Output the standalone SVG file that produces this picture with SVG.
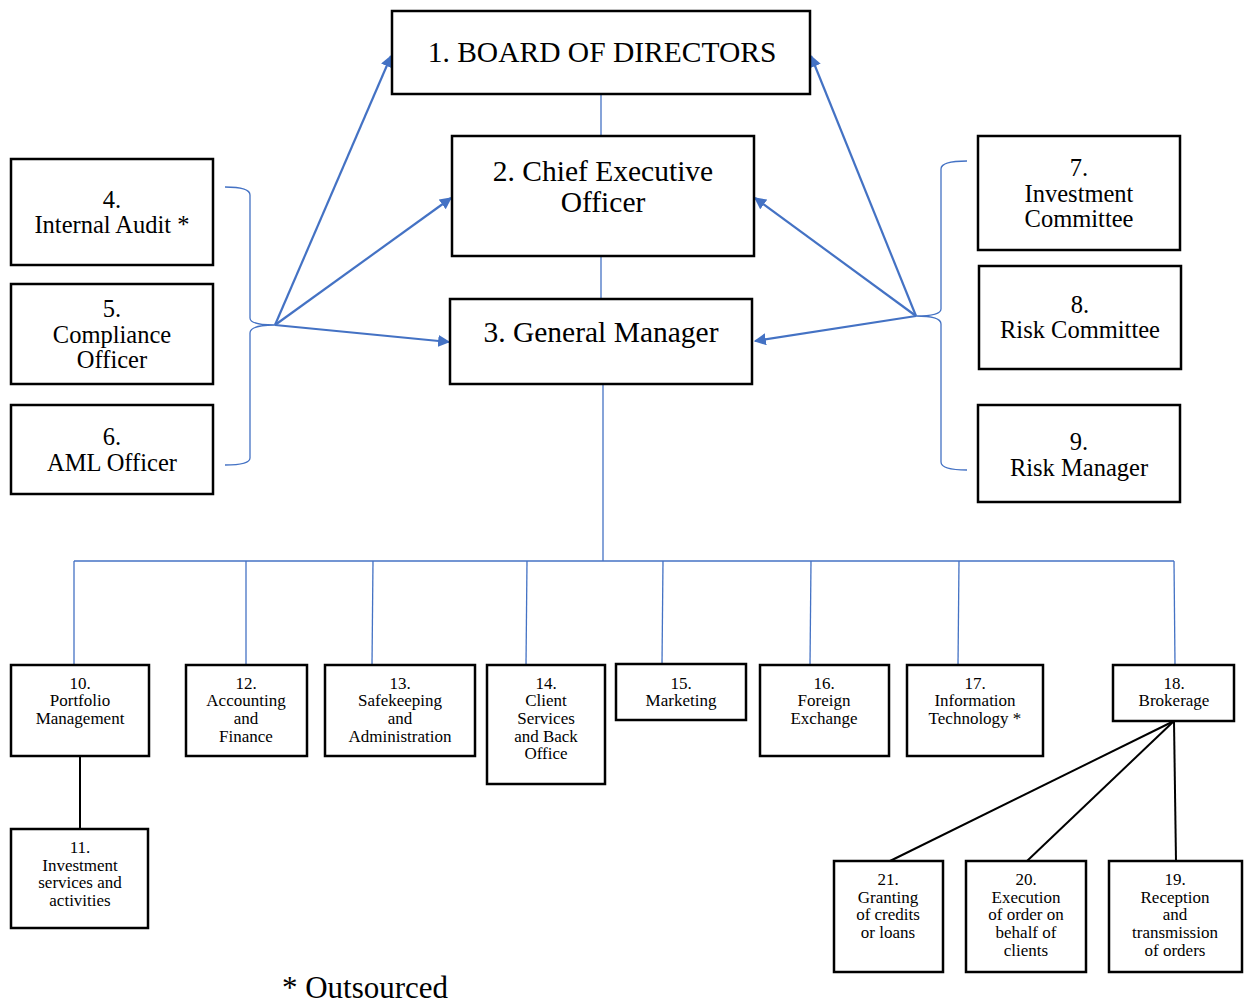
<svg xmlns="http://www.w3.org/2000/svg" width="1244" height="1005" viewBox="0 0 1244 1005" font-family="Liberation Serif, Times New Roman, serif">
<style>
.box{fill:#fff;stroke:#000;stroke-width:2.5}
text{fill:#000;text-anchor:middle}
.big{font-size:29.5px}
.mid{font-size:24.5px}
.sm{font-size:17px}
.blue{stroke:#4472C4;fill:none;stroke-width:1.3}
.arr{stroke:#4472C4;fill:none;stroke-width:2.2;marker-end:url(#ah)}
.blk{stroke:#000;fill:none;stroke-width:2}
</style>
<defs>
<marker id="ah" viewBox="0 0 10 10" refX="9" refY="5" markerWidth="5.5" markerHeight="5.5" orient="auto" markerUnits="strokeWidth">
<path d="M0,0 L10,5 L0,10 z" fill="#4472C4"/>
</marker>
</defs>
<g id="connectors">
<line class="blue" x1="601" y1="94" x2="601" y2="136"/>
<line class="blue" x1="601" y1="256" x2="601" y2="299"/>
<line class="blue" x1="603" y1="384" x2="603" y2="561"/>
<line class="blue" x1="74" y1="561" x2="1174" y2="561"/>
<line class="blue" x1="74" y1="561" x2="74" y2="665"/>
<line class="blue" x1="246" y1="561" x2="246" y2="665"/>
<line class="blue" x1="373" y1="561" x2="372" y2="665"/>
<line class="blue" x1="527" y1="561" x2="526" y2="665"/>
<line class="blue" x1="663" y1="561" x2="662" y2="664"/>
<line class="blue" x1="811" y1="561" x2="810" y2="665"/>
<line class="blue" x1="959" y1="561" x2="958" y2="665"/>
<line class="blue" x1="1174" y1="561" x2="1175" y2="665"/>
<path class="blue" d="M225,187 Q250,187 250,195 L250,318 Q250,325 275,325 Q250,325 250,333 L250,458 Q250,465 225,465"/>
<path class="blue" d="M967,161 Q941,161 941,169 L941,309 Q941,316 916,316 Q941,316 941,324 L941,462 Q941,470 967,470"/>
<line class="arr" x1="275" y1="325" x2="391" y2="56"/>
<line class="arr" x1="275" y1="325" x2="451" y2="198"/>
<line class="arr" x1="275" y1="325" x2="449" y2="342"/>
<line class="arr" x1="916" y1="316" x2="811" y2="56"/>
<line class="arr" x1="916" y1="316" x2="755" y2="198"/>
<line class="arr" x1="916" y1="316" x2="755" y2="341"/>
<line class="blk" x1="80" y1="756" x2="80" y2="829"/>
<line class="blk" x1="1174" y1="721" x2="890" y2="861"/>
<line class="blk" x1="1174" y1="721" x2="1027" y2="861"/>
<line class="blk" x1="1174" y1="721" x2="1176" y2="861"/>
</g>
<g id="n1"><rect class="box" x="392" y="11" width="418" height="83"/><text class="big" x="602" y="62">1. BOARD OF DIRECTORS</text></g>
<g id="n2"><rect class="box" x="452" y="136" width="302" height="120"/><text class="big" x="603" y="181">2. Chief Executive</text><text class="big" x="603" y="212">Officer</text></g>
<g id="n3"><rect class="box" x="450" y="299" width="302" height="85"/><text class="big" x="601" y="342">3. General Manager</text></g>
<g id="n4"><rect class="box" x="11" y="159" width="202" height="106"/><text class="mid" x="112" y="208">4.</text><text class="mid" x="112" y="233">Internal Audit *</text></g>
<g id="n5"><rect class="box" x="11" y="284" width="202" height="100"/><text class="mid" x="112" y="317">5.</text><text class="mid" x="112" y="343">Compliance</text><text class="mid" x="112" y="368">Officer</text></g>
<g id="n6"><rect class="box" x="11" y="405" width="202" height="89"/><text class="mid" x="112" y="445">6.</text><text class="mid" x="112" y="471">AML Officer</text></g>
<g id="n7"><rect class="box" x="978" y="136" width="202" height="114"/><text class="mid" x="1079" y="176">7.</text><text class="mid" x="1079" y="202">Investment</text><text class="mid" x="1079" y="227">Committee</text></g>
<g id="n8"><rect class="box" x="979" y="266" width="202" height="103"/><text class="mid" x="1080" y="313">8.</text><text class="mid" x="1080" y="338">Risk Committee</text></g>
<g id="n9"><rect class="box" x="978" y="405" width="202" height="97"/><text class="mid" x="1079" y="450">9.</text><text class="mid" x="1079" y="476">Risk Manager</text></g>
<g id="n10"><rect class="box" x="11" y="665" width="138" height="91"/><text class="sm" x="80" y="689">10.</text><text class="sm" x="80" y="706">Portfolio</text><text class="sm" x="80" y="724">Management</text></g>
<g id="n12"><rect class="box" x="186" y="665" width="121" height="91"/><text class="sm" x="246" y="689">12.</text><text class="sm" x="246" y="706">Accounting</text><text class="sm" x="246" y="724">and</text><text class="sm" x="246" y="742">Finance</text></g>
<g id="n13"><rect class="box" x="325" y="665" width="150" height="91"/><text class="sm" x="400" y="689">13.</text><text class="sm" x="400" y="706">Safekeeping</text><text class="sm" x="400" y="724">and</text><text class="sm" x="400" y="742">Administration</text></g>
<g id="n14"><rect class="box" x="487" y="665" width="118" height="119"/><text class="sm" x="546" y="689">14.</text><text class="sm" x="546" y="706">Client</text><text class="sm" x="546" y="724">Services</text><text class="sm" x="546" y="742">and Back</text><text class="sm" x="546" y="759">Office</text></g>
<g id="n15"><rect class="box" x="616" y="664" width="130" height="56"/><text class="sm" x="681" y="689">15.</text><text class="sm" x="681" y="706">Marketing</text></g>
<g id="n16"><rect class="box" x="760" y="665" width="129" height="91"/><text class="sm" x="824" y="689">16.</text><text class="sm" x="824" y="706">Foreign</text><text class="sm" x="824" y="724">Exchange</text></g>
<g id="n17"><rect class="box" x="907" y="665" width="136" height="91"/><text class="sm" x="975" y="689">17.</text><text class="sm" x="975" y="706">Information</text><text class="sm" x="975" y="724">Technology *</text></g>
<g id="n18"><rect class="box" x="1113" y="665" width="121" height="56"/><text class="sm" x="1174" y="689">18.</text><text class="sm" x="1174" y="706">Brokerage</text></g>
<g id="n11"><rect class="box" x="11" y="829" width="137" height="99"/><text class="sm" x="80" y="853">11.</text><text class="sm" x="80" y="871">Investment</text><text class="sm" x="80" y="888">services and</text><text class="sm" x="80" y="906">activities</text></g>
<g id="n21"><rect class="box" x="834" y="861" width="109" height="111"/><text class="sm" x="888" y="885">21.</text><text class="sm" x="888" y="903">Granting</text><text class="sm" x="888" y="920">of credits</text><text class="sm" x="888" y="938">or loans</text></g>
<g id="n20"><rect class="box" x="966" y="861" width="120" height="111"/><text class="sm" x="1026" y="885">20.</text><text class="sm" x="1026" y="903">Execution</text><text class="sm" x="1026" y="920">of order on</text><text class="sm" x="1026" y="938">behalf of</text><text class="sm" x="1026" y="956">clients</text></g>
<g id="n19"><rect class="box" x="1109" y="861" width="133" height="111"/><text class="sm" x="1175" y="885">19.</text><text class="sm" x="1175" y="903">Reception</text><text class="sm" x="1175" y="920">and</text><text class="sm" x="1175" y="938">transmission</text><text class="sm" x="1175" y="956">of orders</text></g>
<text x="365" y="998" style="font-size:31px">* Outsourced</text>
</svg>
